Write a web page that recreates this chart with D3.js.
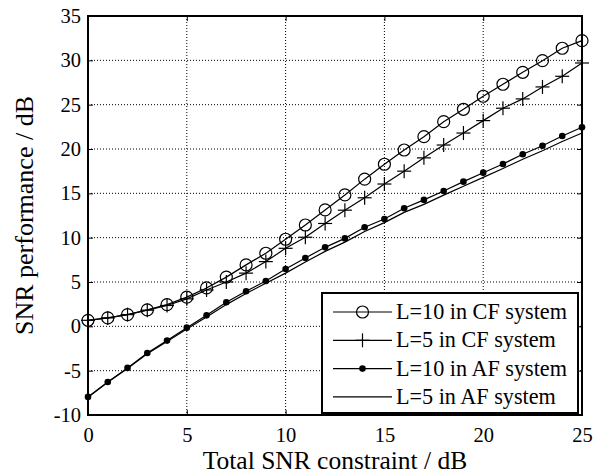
<!DOCTYPE html>
<html>
<head>
<meta charset="utf-8">
<script src="https://cdn.jsdelivr.net/npm/d3@7"></script>
<style>
html,body{margin:0;padding:0;background:#fff;}
svg text{font-family:"Liberation Serif","Times New Roman",serif !important;fill:#000;}
</style>
</head>
<body>
<svg id="chart" width="593" height="475"></svg>
<script>
const snr = d3.range(0, 26);
const cfL10 = [0.68,0.95,1.32,1.85,2.45,3.3,4.33,5.55,6.93,8.24,9.82,11.43,13.13,14.82,16.6,18.28,19.89,21.39,23.08,24.48,25.95,27.3,28.65,29.96,31.36,32.22];
const cfL5  = [0.68,0.95,1.32,1.82,2.35,3.1,4.1,5.0,6.0,7.3,8.8,10.05,11.6,13.1,14.5,16.05,17.5,19.0,20.45,21.8,23.2,24.6,25.65,27.0,28.2,29.7];
const afL10 = [-7.96,-6.27,-4.69,-3.0,-1.61,-0.15,1.24,2.71,3.95,5.12,6.47,7.71,8.91,9.92,11.18,12.11,13.32,14.26,15.27,16.32,17.33,18.31,19.4,20.37,21.47,22.45];
const afL5  = [-8.0,-6.3,-4.75,-3.1,-1.7,-0.3,1.05,2.45,3.7,4.85,6.0,7.25,8.45,9.5,10.7,11.7,12.85,13.75,14.8,15.8,16.8,17.8,18.85,19.8,20.85,21.8];
const xTicks = [0,5,10,15,20,25];
const yTicks = [-10,-5,0,5,10,15,20,25,30,35];
const legendLabels = ["L=10 in CF system","L=5 in CF system","L=10 in AF system","L=5 in AF system"];
const xTitle = "Total SNR constraint / dB";
const yTitle = "SNR performance / dB";

const FONT = "'Liberation Serif','Times New Roman',serif";
const svg = d3.select("#chart");
const L = 88, R = 582, T = 16, B = 415;
const x = d3.scaleLinear().domain([0,25]).range([L,R]);
const y = d3.scaleLinear().domain([-10,35]).range([B,T]);

// grid
const g = svg.append("g");
g.selectAll(".vg").data(xTicks.slice(1,-1)).join("line")
  .attr("x1",d=>x(d)).attr("x2",d=>x(d)).attr("y1",T).attr("y2",B)
  .attr("stroke","#000").attr("stroke-width",1).attr("stroke-dasharray","1,2");
g.selectAll(".hg").data(yTicks.slice(1,-1)).join("line")
  .attr("x1",L).attr("x2",R).attr("y1",d=>y(d)).attr("y2",d=>y(d))
  .attr("stroke","#000").attr("stroke-width",1).attr("stroke-dasharray","1,2");

// axes
const fmt = d => String(d);
const xAxis = svg.append("g").attr("transform",`translate(0,${B})`)
  .call(d3.axisBottom(x).tickValues(xTicks).tickSize(-5).tickPadding(12).tickFormat(fmt));
const xAxisTop = svg.append("g").attr("transform",`translate(0,${T})`)
  .call(d3.axisTop(x).tickValues(xTicks).tickSize(-5).tickFormat(""));
const yAxis = svg.append("g").attr("transform",`translate(${L},0)`)
  .call(d3.axisLeft(y).tickValues(yTicks).tickSize(-5).tickPadding(7).tickFormat(fmt));
const yAxisR = svg.append("g").attr("transform",`translate(${R},0)`)
  .call(d3.axisRight(y).tickValues(yTicks).tickSize(-5).tickFormat(""));
[xAxis,xAxisTop,yAxis,yAxisR].forEach(a=>{
  a.attr("font-family",FONT).attr("font-size",20);
  a.select(".domain").remove();
  a.selectAll("line").attr("stroke","#000").attr("stroke-width",1);
  a.selectAll("text").style("font-family",FONT).style("font-size","20.5px").attr("fill","#000");
});
xAxis.selectAll("text").attr("dy","0.71em");

// data lines
const line = d3.line().x((d,i)=>x(snr[i])).y(d=>y(d));
const series = [cfL10, cfL5, afL10, afL5];
const lg = svg.append("g");
series.forEach(s=>{
  lg.append("path").datum(s).attr("d",line).attr("fill","none")
    .attr("stroke","#000").attr("stroke-width",1.2);
});

function drawMarker(sel, type, cx, cy){
  if(type==="circle"){
    sel.append("circle").attr("cx",cx).attr("cy",cy).attr("r",6)
      .attr("fill","none").attr("stroke","#000").attr("stroke-width",1.2);
  } else if(type==="plus"){
    sel.append("line").attr("x1",cx-7).attr("x2",cx+7).attr("y1",cy).attr("y2",cy).attr("stroke","#000").attr("stroke-width",1.2);
    sel.append("line").attr("x1",cx).attr("x2",cx).attr("y1",cy-7).attr("y2",cy+7).attr("stroke","#000").attr("stroke-width",1.2);
  } else if(type==="dot"){
    sel.append("circle").attr("cx",cx).attr("cy",cy).attr("r",3.3).attr("fill","#000");
  }
}
const markerTypes = ["circle","plus","dot",null];
series.forEach((s,k)=>{
  if(!markerTypes[k]) return;
  const mg = svg.append("g");
  s.forEach((v,i)=>drawMarker(mg, markerTypes[k], x(snr[i]), y(v)));
});

// box
svg.append("rect").attr("x",L).attr("y",T).attr("width",R-L).attr("height",B-T)
  .attr("fill","none").attr("stroke","#000").attr("stroke-width",2);

// legend
const leg = svg.append("g");
leg.append("rect").attr("x",322).attr("y",293).attr("width",256).attr("height",120)
  .attr("fill","#fff").attr("stroke","#000").attr("stroke-width",2);
legendLabels.forEach((lab,k)=>{
  const cy = 312 + k*28.3;
  leg.append("line").attr("x1",333).attr("x2",392).attr("y1",cy).attr("y2",cy)
    .attr("stroke","#000").attr("stroke-width",1.2);
  if(markerTypes[k]) drawMarker(leg, markerTypes[k], 362.5, cy);
  leg.append("text").attr("x",396).attr("y",cy+7).style("font-family",FONT).style("font-size","22.2px").text(lab);
});

// titles
svg.append("text").attr("x",(L+R)/2).attr("y",469).attr("text-anchor","middle")
  .style("font-family",FONT).style("font-size","25.5px").text(xTitle);
svg.append("text").attr("transform",`translate(33,${(T+B)/2}) rotate(-90)`)
  .attr("text-anchor","middle").style("font-family",FONT).style("font-size","26px").text(yTitle);
</script>
</body>
</html>
